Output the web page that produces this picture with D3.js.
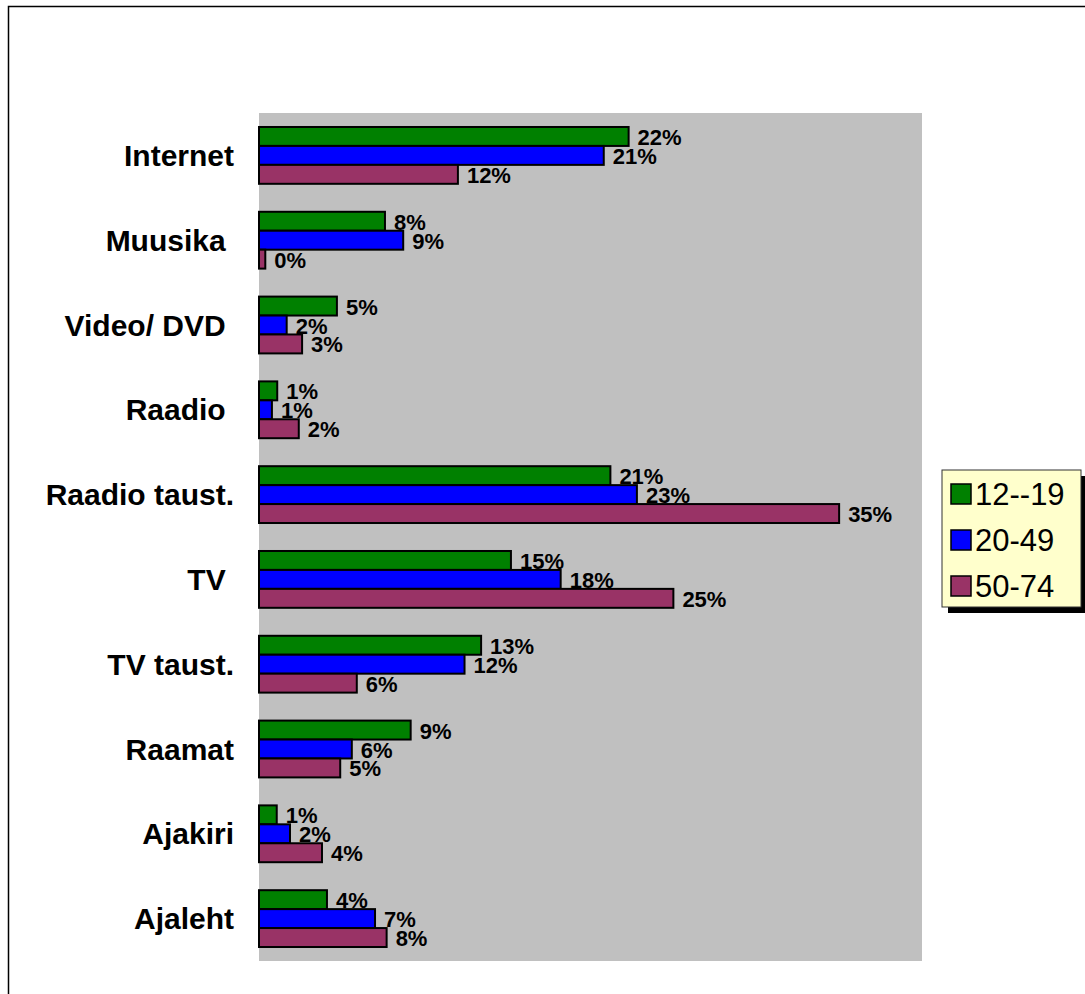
<!DOCTYPE html>
<html>
<head>
<meta charset="utf-8">
<script src="https://cdn.jsdelivr.net/npm/d3@7/dist/d3.min.js"></script>
<style>
  html, body { margin: 0; padding: 0; background: #fff; }
  svg { display: block; }
  text { font-family: "Liberation Sans", Arial, sans-serif; white-space: pre; }
</style>
</head>
<body>
<svg id="chart" width="1085" height="994"></svg>
<script>
// ---- data ----
const categories = ["Internet", "Muusika ", "Video/ DVD ", "Raadio ", "Raadio taust.", "TV ", "TV taust.", "Raamat", "Ajakiri", "Ajaleht"];
const seriesNames = ["12--19", "20-49", "50-74"];
const values1219 = [22.3, 7.6, 4.7, 1.1, 21.2, 15.2, 13.4, 9.15, 1.07, 4.1];
const values2049 = [20.8, 8.7, 1.67, 0.78, 22.8, 18.2, 12.4, 5.6, 1.87, 7.0];
const values5074 = [12.0, 0.38, 2.6, 2.4, 35.0, 25.0, 5.9, 4.9, 3.8, 7.7];
const xDomain = [0, 40];

const seriesValues = [values1219, values2049, values5074];
const colors = ["#008000", "#0000FF", "#993366"];

const svg = d3.select("#chart");

// outer frame (top and left edges visible)
svg.append("path")
  .attr("d", "M8.5,994 L8.5,6.5 L1085,6.5")
  .attr("fill", "none").attr("stroke", "#000").attr("stroke-width", 1.5);

const plot = { left: 259, right: 922, top: 113, bottom: 961 };

const x = d3.scaleLinear().domain(xDomain).range([plot.left, plot.right]);
const y0 = d3.scaleBand().domain(categories).range([plot.top, plot.bottom])
  .paddingInner(0.33).paddingOuter(0.165);
const y1 = d3.scaleBand().domain(seriesNames).range([0, y0.bandwidth()]);

// plot area
svg.append("rect")
  .attr("x", x(xDomain[0])).attr("y", plot.top)
  .attr("width", x(xDomain[1]) - x(xDomain[0])).attr("height", plot.bottom - plot.top)
  .attr("fill", "#C0C0C0");

// category labels
svg.append("g").selectAll("text").data(categories).join("text")
  .attr("x", 234)
  .attr("y", d => y0(d) + y0.bandwidth() / 2)
  .attr("text-anchor", "end")
  .attr("dominant-baseline", "central")
  .attr("font-size", 30).attr("font-weight", "bold").attr("fill", "#000")
  .text(d => d);

const flat = [];
seriesNames.forEach((s, si) => {
  categories.forEach((c, ci) => flat.push({ s, si, c, v: seriesValues[si][ci] }));
});

// value labels (drawn beneath bars like the original)
svg.append("g").selectAll("text").data(flat).join("text")
  .attr("x", d => x(d.v) + 9)
  .attr("y", d => y0(d.c) + y1(d.s) + y1.bandwidth() / 2 + 1)
  .attr("dominant-baseline", "central")
  .attr("font-size", 22).attr("font-weight", "bold").attr("fill", "#000")
  .text(d => Math.round(d.v) + "%");

// bars
svg.append("g").selectAll("rect").data(flat).join("rect")
  .attr("x", x(0))
  .attr("y", d => y0(d.c) + y1(d.s))
  .attr("width", d => x(d.v) - x(0))
  .attr("height", y1.bandwidth())
  .attr("fill", d => colors[d.si])
  .attr("stroke", "#000").attr("stroke-width", 2);

// legend
const lg = svg.append("g").attr("transform", "translate(942,470)");
lg.append("rect").attr("x", 6).attr("y", 6).attr("width", 139).attr("height", 137).attr("fill", "#000");
lg.append("rect").attr("x", 0).attr("y", 0).attr("width", 139).attr("height", 137)
  .attr("fill", "#FFFFCC").attr("stroke", "#333").attr("stroke-width", 1);
const items = lg.selectAll("g.item").data(seriesNames).join("g")
  .attr("transform", (d, i) => `translate(0,${24 + i * 46})`);
items.append("rect").attr("x", 9).attr("y", -10).attr("width", 20).attr("height", 20)
  .attr("fill", (d, i) => colors[i]).attr("stroke", "#000").attr("stroke-width", 1.5);
items.append("text").attr("x", 33).attr("y", 0)
  .attr("dominant-baseline", "central")
  .attr("font-size", 31).attr("fill", "#000")
  .text(d => d);
</script>
</body>
</html>
